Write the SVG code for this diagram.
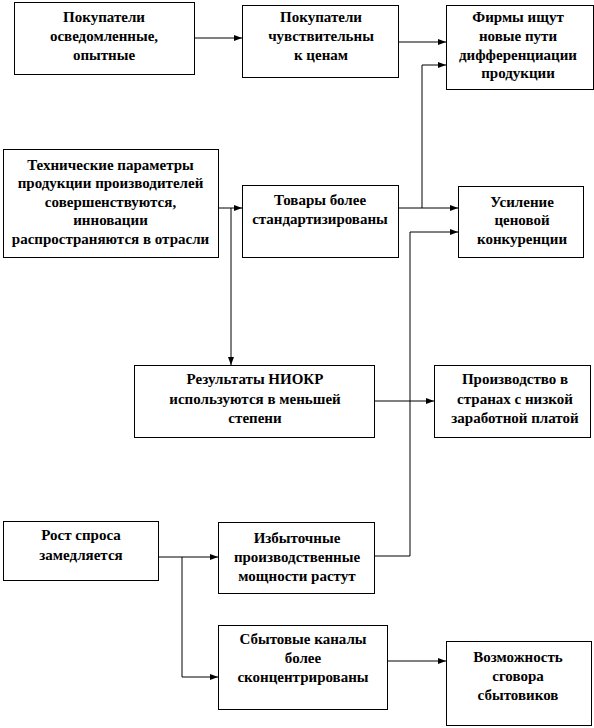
<svg xmlns="http://www.w3.org/2000/svg" width="594" height="728" viewBox="0 0 594 728">
<style>
.box{fill:#fff;stroke:#000;stroke-width:1}
.t{font-family:"Liberation Serif","Times New Roman",serif;font-weight:bold;font-size:15px;text-anchor:middle;fill:#000}
.c{fill:none;stroke:#000;stroke-width:1}
</style>
<defs>
<marker id="ah" viewBox="0 0 8 6" refX="8" refY="3" markerWidth="8" markerHeight="6" markerUnits="userSpaceOnUse" orient="auto">
<path d="M0,0 L8,3 L0,6 Z" fill="#000"/>
</marker>
</defs>
<rect width="594" height="728" fill="#fff"/>
<g id="connectors">
<path class="c" d="M194,38 H242" marker-end="url(#ah)"/>
<path class="c" d="M398,42 H446" marker-end="url(#ah)"/>
<path class="c" d="M218,208 H242" marker-end="url(#ah)"/>
<path class="c" d="M231,208 V365" marker-end="url(#ah)"/>
<path class="c" d="M398,208 H458" marker-end="url(#ah)"/>
<path class="c" d="M422,208 V65 H446" marker-end="url(#ah)"/>
<path class="c" d="M374,401 H434" marker-end="url(#ah)"/>
<path class="c" d="M374,556 H410 V232 H458" marker-end="url(#ah)"/>
<path class="c" d="M158,557 H218" marker-end="url(#ah)"/>
<path class="c" d="M182,557 V677 H218" marker-end="url(#ah)"/>
<path class="c" d="M387,661 H446" marker-end="url(#ah)"/>
</g>
<g id="n1"><rect class="box" x="14.5" y="2.5" width="180" height="72"/>
<text class="t" x="104" y="22">Покупатели</text><text class="t" x="104" y="41">осведомленные,</text><text class="t" x="104" y="60">опытные</text></g>
<g id="n2"><rect class="box" x="242.5" y="5.5" width="156" height="72"/>
<text class="t" x="321" y="22">Покупатели</text><text class="t" x="321" y="41">чувствительны</text><text class="t" x="321" y="60">к ценам</text></g>
<g id="n3"><rect class="box" x="446.5" y="5.5" width="147" height="84"/>
<text class="t" x="518" y="22">Фирмы ищут</text><text class="t" x="518" y="41">новые пути</text><text class="t" x="518" y="60">дифференциации</text><text class="t" x="518" y="78">продукции</text></g>
<g id="n4"><rect class="box" x="3.5" y="149.5" width="215" height="108"/>
<text class="t" x="110.5" y="170">Технические параметры</text><text class="t" x="110.5" y="188">продукции производителей</text><text class="t" x="110.5" y="207">совершенствуются,</text><text class="t" x="110.5" y="225">инновации</text><text class="t" x="110.5" y="244">распространяются в отрасли</text></g>
<g id="n5"><rect class="box" x="242.5" y="185.5" width="156" height="72"/>
<text class="t" x="320" y="205">Товары более</text><text class="t" x="320" y="224">стандартизированы</text></g>
<g id="n6"><rect class="box" x="458.5" y="186.5" width="125" height="71"/>
<text class="t" x="522" y="207">Усиление</text><text class="t" x="522" y="225">ценовой</text><text class="t" x="522" y="244">конкуренции</text></g>
<g id="n7"><rect class="box" x="134.5" y="365.5" width="240" height="72"/>
<text class="t" x="255" y="384">Результаты НИОКР</text><text class="t" x="255" y="404">используются в меньшей</text><text class="t" x="255" y="423">степени</text></g>
<g id="n8"><rect class="box" x="434.5" y="365.5" width="156" height="72"/>
<text class="t" x="515" y="384">Производство в</text><text class="t" x="515" y="404">странах с низкой</text><text class="t" x="515" y="423">заработной платой</text></g>
<g id="n9"><rect class="box" x="3.5" y="521.5" width="155" height="59"/>
<text class="t" x="81" y="540">Рост спроса</text><text class="t" x="81" y="560">замедляется</text></g>
<g id="n10"><rect class="box" x="218.5" y="522.5" width="156" height="71"/>
<text class="t" x="297" y="543">Избыточные</text><text class="t" x="297" y="562">производственные</text><text class="t" x="297" y="581">мощности растут</text></g>
<g id="n11"><rect class="box" x="218.5" y="625.5" width="169" height="84"/>
<text class="t" x="303" y="644">Сбытовые каналы</text><text class="t" x="303" y="663">более</text><text class="t" x="303" y="682">сконцентрированы</text></g>
<g id="n12"><rect class="box" x="446.5" y="641.5" width="145" height="84"/>
<text class="t" x="518" y="662">Возможность</text><text class="t" x="518" y="681">сговора</text><text class="t" x="518" y="700">сбытовиков</text></g>
</svg>
